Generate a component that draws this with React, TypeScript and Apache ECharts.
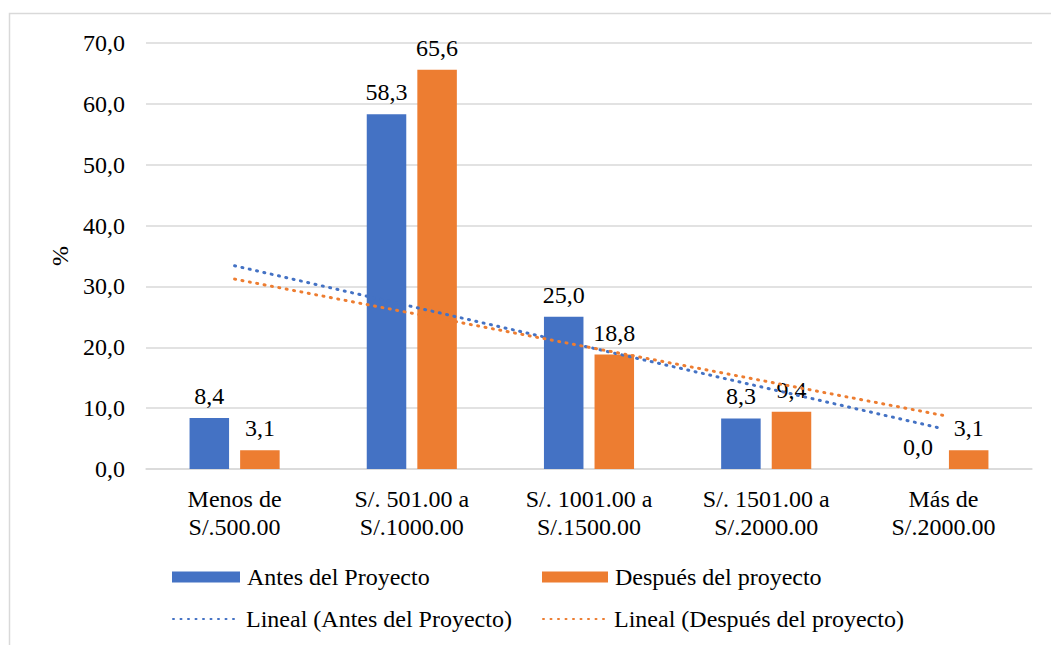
import React, { useEffect, useRef } from "react";
import * as echarts from "echarts";

const categories = ["Menos de\nS/.500.00", "S/. 501.00 a\nS/.1000.00", "S/. 1001.00 a\nS/.1500.00", "S/. 1501.00 a\nS/.2000.00", "Más de\nS/.2000.00"];
const antes = [8.4, 58.3, 25.0, 8.3, 0.0];
const despues = [3.1, 65.6, 18.8, 9.4, 3.1];
const trendAntes = [33.4, 26.7, 20.0, 13.3, 6.6];
const trendDespues = [31.2, 25.6, 20.0, 14.4, 8.8];
const seriesNames = ["Antes del Proyecto", "Después del proyecto", "Lineal (Antes del Proyecto)", "Lineal (Después del proyecto)"];

const BLUE = "#4472C4";
const ORANGE = "#ED7D31";
const FONT = "Liberation Serif";
const FS = 24;

const fmt = (v: number) => v.toFixed(1).replace(".", ",");

export default function App() {
  const ref = useRef<HTMLDivElement>(null);
  useEffect(() => {
    const chart = echarts.init(ref.current!, null, { renderer: "svg" });
    const txt = { fontFamily: FONT, fontSize: FS, color: "#000", fontWeight: "normal" as const, fontStyle: "normal" as const };
    const legendBase = {
      orient: "horizontal",
      padding: 0,
      textStyle: { ...txt, padding: [0, 0, 0, 2] },
      itemHeight: 11,
      selectedMode: false,
    };
    const hiddenSymbol = { color: "rgba(0,0,0,0)", borderColor: "rgba(0,0,0,0)", borderWidth: 0 };
    chart.setOption({
      animation: false,
      backgroundColor: "#fff",
      textStyle: { fontFamily: FONT },
      graphic: [
        {
          type: "rect",
          shape: { x: 9.5, y: 13.5, width: 1200, height: 800 },
          style: { fill: "none", stroke: "#d9d9d9", lineWidth: 1.5 },
          silent: true,
        },
      ],
      grid: { left: 146, right: 19, top: 43, bottom: 176 },
      legend: [
        { ...legendBase, data: [{ name: seriesNames[0], icon: "rect" }], left: 172, top: 565, itemWidth: 68 },
        { ...legendBase, data: [{ name: seriesNames[1], icon: "rect" }], left: 542, top: 565, itemWidth: 66 },
        { ...legendBase, data: [seriesNames[2]], left: 172, top: 607, itemWidth: 66, itemStyle: hiddenSymbol },
        { ...legendBase, data: [seriesNames[3]], left: 542, top: 607, itemWidth: 64, itemStyle: hiddenSymbol },
      ],
      xAxis: {
        type: "category",
        data: categories,
        axisTick: { show: false },
        axisLine: { lineStyle: { color: "#d9d9d9", width: 1.5 } },
        axisLabel: { ...txt, margin: 16, lineHeight: 28, interval: 0 },
      },
      yAxis: {
        type: "value",
        min: 0,
        max: 70,
        interval: 10,
        name: "%",
        nameLocation: "middle",
        nameRotate: 90,
        nameGap: 73,
        nameTextStyle: { ...txt },
        axisLine: { show: false },
        axisTick: { show: false },
        splitLine: { lineStyle: { color: "#d9d9d9", width: 1.5 } },
        axisLabel: { ...txt, margin: 21, formatter: (v: number) => fmt(v) },
      },
      series: [
        {
          name: seriesNames[0],
          type: "bar",
          data: antes,
          barWidth: "22.3%",
          barGap: "28%",
          itemStyle: { color: BLUE },
          label: { show: true, position: "top", distance: 10, ...txt, formatter: (p: any) => fmt(p.value) },
        },
        {
          name: seriesNames[1],
          type: "bar",
          data: despues,
          barWidth: "22.3%",
          barGap: "28%",
          itemStyle: { color: ORANGE },
          label: { show: true, position: "top", distance: 10, ...txt, formatter: (p: any) => fmt(p.value) },
        },
        {
          name: seriesNames[2],
          type: "line",
          data: trendAntes,
          symbol: "none",
          z: 5,
          lineStyle: { color: BLUE, width: 3, type: [1, 6.5], cap: "round" },
          itemStyle: { color: BLUE },
        },
        {
          name: seriesNames[3],
          type: "line",
          data: trendDespues,
          symbol: "none",
          z: 5,
          lineStyle: { color: ORANGE, width: 3, type: [1, 6.5], cap: "round" },
          itemStyle: { color: ORANGE },
        },
      ],
    });
    return () => chart.dispose();
  }, []);
  return <div ref={ref} style={{ position: "fixed", left: 0, top: 0, width: 1051, height: 645 }} />;
}
